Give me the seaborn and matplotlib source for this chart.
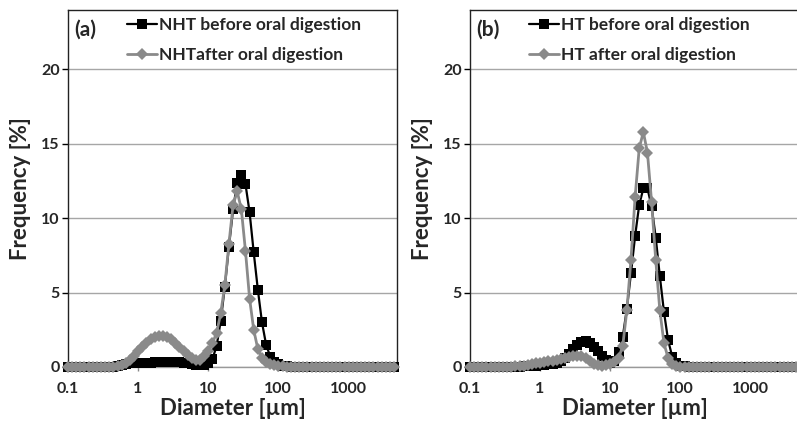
import matplotlib
matplotlib.use('Agg')
import pandas as pd
from matplotlib import pyplot as plt
from matplotlib.ticker import NullLocator
import seaborn as sns

# particle size bins [um]
diameter = [0.1, 0.115, 0.131, 0.15, 0.172, 0.197, 0.226, 0.259, 0.296, 0.339,
            0.389, 0.445, 0.51, 0.584, 0.669, 0.766, 0.877, 1.005, 1.151, 1.318,
            1.51, 1.729, 1.981, 2.269, 2.599, 2.976, 3.409, 3.905, 4.472, 5.122,
            5.867, 6.72, 7.697, 8.816, 10.1, 11.57, 13.25, 15.17, 17.38, 19.9,
            22.8, 26.11, 29.91, 34.25, 39.23, 44.94, 51.47, 58.95, 67.52, 77.34,
            88.58, 101.5, 116.2, 133.1, 152.5, 174.6, 200, 229.1, 262.4, 300.5,
            344.2, 394.2, 451.6, 517.2, 592.4, 678.5, 777.1, 890.1, 1019, 1168,
            1337, 1532, 1755, 2010, 2302, 2636, 3020, 3459, 3962, 4538]

nht_before = [0, 0, 0, 0, 0, 0, 0, 0, 0, 0,
              0, 0, 0.05, 0.15, 0.22, 0.27, 0.3, 0.3, 0.3, 0.3,
              0.3, 0.32, 0.33, 0.34, 0.35, 0.35, 0.34, 0.32, 0.3, 0.27,
              0.22, 0.16, 0.12, 0.14, 0.25, 0.55, 1.4, 3.1, 5.4, 8.1,
              10.6, 12.4, 12.9, 12.3, 10.4, 7.7, 5.2, 3.0, 1.5, 0.7,
              0.35, 0.18, 0.1, 0.06, 0.03, 0.01, 0, 0, 0, 0,
              0, 0, 0, 0, 0, 0, 0, 0, 0, 0,
              0, 0, 0, 0, 0, 0, 0, 0, 0, 0]

nht_after = [0, 0, 0, 0, 0, 0, 0, 0, 0, 0,
             0, 0.02, 0.06, 0.15, 0.3, 0.5, 0.75, 1.05, 1.35, 1.62,
             1.85, 2.0, 2.1, 2.1, 2.0, 1.85, 1.6, 1.35, 1.05, 0.8,
             0.6, 0.47, 0.5, 0.75, 1.1, 1.6, 2.3, 3.6, 5.5, 8.3,
             10.9, 11.8, 10.6, 7.8, 4.6, 2.5, 1.2, 0.6, 0.35, 0.2,
             0.12, 0.08, 0.05, 0.03, 0.01, 0, 0, 0, 0, 0,
             0, 0, 0, 0, 0, 0, 0, 0, 0, 0,
             0, 0, 0, 0, 0, 0, 0, 0, 0, 0]

ht_before = [0, 0, 0, 0, 0, 0, 0, 0, 0, 0,
             0, 0, 0.02, 0.04, 0.06, 0.08, 0.1, 0.12, 0.14, 0.17,
             0.22, 0.3, 0.42, 0.6, 0.9, 1.2, 1.5, 1.68, 1.72, 1.6,
             1.35, 1.05, 0.72, 0.45, 0.3, 0.4, 1.0, 2.0, 3.9, 6.3,
             8.8, 10.9, 12.0, 12.0, 10.8, 8.7, 6.1, 3.7, 1.8, 0.7,
             0.25, 0.1, 0.04, 0.01, 0, 0, 0, 0, 0, 0,
             0, 0, 0, 0, 0, 0, 0, 0, 0, 0,
             0, 0, 0, 0, 0, 0, 0, 0, 0, 0]

ht_after = [0, 0, 0, 0, 0, 0, 0, 0, 0, 0,
            0.02, 0.04, 0.07, 0.1, 0.15, 0.2, 0.25, 0.3, 0.33, 0.37,
            0.42, 0.47, 0.52, 0.58, 0.65, 0.72, 0.76, 0.72, 0.58, 0.38,
            0.22, 0.13, 0.1, 0.12, 0.2, 0.35, 0.6, 1.4, 3.8, 7.2,
            11.4, 14.7, 15.8, 14.4, 11.1, 7.2, 3.8, 1.6, 0.6, 0.2,
            0.05, 0, 0, 0, 0, 0, 0, 0, 0, 0,
            0, 0, 0, 0, 0, 0, 0, 0, 0, 0,
            0, 0, 0, 0, 0, 0, 0, 0, 0, 0]

panels = [
    ('(a)', 'NHT before oral digestion', nht_before, 'NHTafter oral digestion', nht_after),
    ('(b)', 'HT before oral digestion', ht_before, 'HT after oral digestion', ht_after),
]

sns.set_theme(style='white')
plt.rcParams['font.family'] = ['Lato', 'DejaVu Sans']
plt.rcParams['font.weight'] = 'bold'

fig = plt.figure(figsize=(7.97, 4.22), dpi=100)
lefts = [68 / 797, 470 / 797]
gray = '#8a8a8a'

for left, (tag, lab1, y1, lab2, y2) in zip(lefts, panels):
    ax = fig.add_axes([left, 55 / 422, 329 / 797, 357 / 422])
    df = pd.DataFrame({'d': diameter, 'before': y1, 'after': y2})
    sns.lineplot(data=df, x='d', y='before', ax=ax, color='black', marker='s',
                 markersize=7, markeredgewidth=0, linewidth=1.6, label=lab1,
                 clip_on=False, zorder=3)
    sns.lineplot(data=df, x='d', y='after', ax=ax, color=gray, marker='D',
                 markersize=6, markeredgewidth=0, linewidth=2, label=lab2,
                 clip_on=False, zorder=4)
    ax.set_xscale('log')
    ax.set_xlim(0.1, 5000)
    ax.set_ylim(0, 24)
    ax.set_xticks([0.1, 1, 10, 100, 1000])
    ax.set_xticklabels(['0.1', '1', '10', '100', '1000'])
    ax.xaxis.set_minor_locator(NullLocator())
    ax.set_yticks([0, 5, 10, 15, 20])
    ax.yaxis.grid(True, color='#a6a6a6', linewidth=1)
    ax.set_axisbelow(True)
    ax.tick_params(axis='y', direction='out', length=4, width=1, color='black',
                   labelsize=11.5, pad=2, left=True)
    ax.tick_params(axis='x', direction='out', length=3, width=1, color='#888888',
                   labelsize=11.5, pad=8, bottom=True)
    for lbl in ax.get_xticklabels() + ax.get_yticklabels():
        lbl.set_fontweight('bold')
    for side in ['left', 'top', 'right']:
        ax.spines[side].set_color('#222222')
        ax.spines[side].set_linewidth(1)
    ax.spines['bottom'].set_color('#999999')
    ax.spines['bottom'].set_linewidth(1)
    ax.set_xlabel('Diameter [µm]', fontsize=16, fontweight='bold', labelpad=1)
    ax.set_ylabel('Frequency [%]', fontsize=16, fontweight='bold', labelpad=7)
    ax.text(0.02, 0.945, tag, transform=ax.transAxes, fontsize=15,
            fontweight='bold', va='center', ha='left')
    ax.legend(loc='upper left', bbox_to_anchor=(0.179, 0.98), frameon=False,
              handlelength=1.75, handletextpad=0.1, labelspacing=0.8,
              borderpad=0, borderaxespad=0, prop={'weight': 'bold', 'size': 12.5})

fig.savefig('out.png', dpi=100)
